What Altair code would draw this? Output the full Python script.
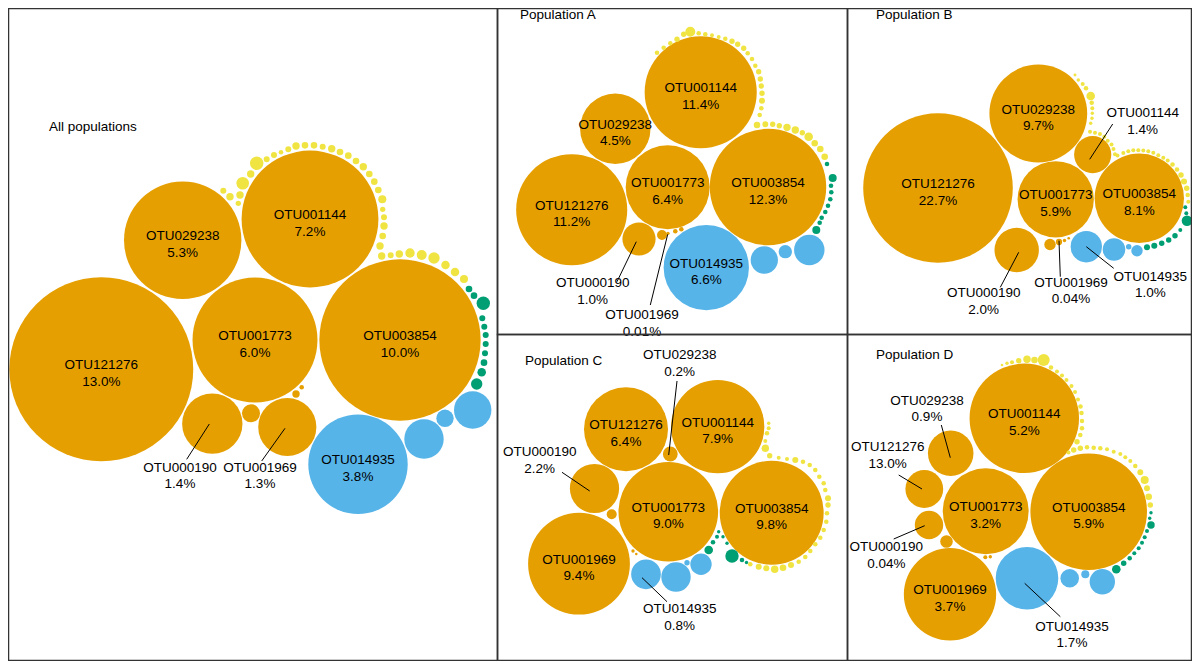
import altair as alt
import pandas as pd

# ---------------- categories / labels ----------------
OTUS = ["OTU121276", "OTU029238", "OTU001144", "OTU001773",
        "OTU003854", "OTU000190", "OTU001969", "OTU014935"]

PANELS = ["all", "A", "B", "C", "D"]
PANEL_TITLES = ["All populations", "Population A", "Population B", "Population C", "Population D"]
TITLE_X = [49, 520, 876, 525, 876]
TITLE_Y = [127, 15, 15, 361, 355]
PANEL_X0 = [8.5, 497.5, 847.5, 497.5, 847.5]
PANEL_X1 = [497.5, 847.5, 1191.5, 847.5, 1191.5]
PANEL_Y0 = [8.5, 8.5, 8.5, 334.5, 334.5]
PANEL_Y1 = [660.5, 334.5, 334.5, 660.5, 660.5]
PANEL_K = [25.5, 16.6, 15.7, 16.6, 24.0]   # pixels per sqrt(percent)

# percentage labels, in OTUS order
ALL_PCT = ["13.0%", "5.3%", "7.2%", "6.0%", "10.0%", "1.4%", "1.3%", "3.8%"]
A_PCT = ["11.2%", "4.5%", "11.4%", "6.4%", "12.3%", "1.0%", "0.01%", "6.6%"]
B_PCT = ["22.7%", "9.7%", "1.4%", "5.9%", "8.1%", "2.0%", "0.04%", "1.0%"]
C_PCT = ["6.4%", "0.2%", "7.9%", "9.0%", "9.8%", "2.2%", "9.4%", "0.8%"]
D_PCT = ["13.0%", "0.9%", "5.2%", "3.2%", "5.9%", "0.04%", "3.7%", "1.7%"]

# ---------------- bubbles (first 8 = OTUS order) ----------------
ALL_X = [101.3, 182.7, 310, 255, 400, 212.3, 287.3, 358,
         251, 296, 301.7,
         424, 445, 472.7,
         469, 474, 483.3, 482.3, 484.3, 485.7, 485.7, 485, 484, 481.7, 476.7,
         223.3, 230, 238.3, 240, 242.7, 250.7, 256.7, 266.7, 274, 281, 288.3, 296, 305, 314,
         322.7, 331.7, 340, 348.3, 356, 363.3, 369.3, 374.3, 378.3, 382.3, 382.7, 384, 384,
         382.7, 380, 381.7, 390.7, 399.3, 410, 421.7, 434, 445.5, 455, 464]
ALL_Y = [369.3, 240.3, 219, 340, 340, 423.7, 427, 464.3,
         413.3, 394, 387.3,
         439, 418.3, 410,
         289, 295.7, 303.3, 318.3, 326.7, 335, 344, 353.3, 362.7, 372.3, 384,
         190.7, 196.7, 203.3, 195, 183.3, 174, 163.3, 159.3, 155, 152.3, 149.3, 146, 145.3, 145.3,
         146.7, 148.7, 152, 155.7, 161, 166.7, 174, 181.7, 190, 199.3, 209.3, 217.3, 226,
         236, 246, 256, 255.3, 254, 253, 255, 258, 265, 272, 279]
ALL_V = [13.0, 5.3, 7.2, 6.0, 10.0, 1.4, 1.3, 3.8,
         0.125, 0.021, 0.008,
         0.597, 0.116, 0.538,
         0.017, 0.017, 0.069, 0.014, 0.014, 0.014, 0.014, 0.014, 0.017, 0.028, 0.05,
         0.014, 0.021, 0.011, 0.021, 0.061, 0.021, 0.069, 0.014, 0.014, 0.008, 0.014, 0.021, 0.017, 0.017,
         0.014, 0.021, 0.017, 0.017, 0.017, 0.021, 0.017, 0.017, 0.017, 0.025, 0.011, 0.014, 0.021,
         0.017, 0.021, 0.021, 0.014, 0.021, 0.034, 0.038, 0.05, 0.028, 0.028, 0.025]
ALL_C = ["o"] * 7 + ["b"] + ["o"] * 3 + ["b"] * 3 + ["g"] * 11 + ["y"] * 38

A_X = [571.7, 615.3, 700.7, 667.7, 768, 639, 668, 706.3,
       662, 675.3, 681.3,
       764.3, 785.3, 809.3,
       827, 832.7, 831, 831.3, 830.3, 828, 825.3, 821.7, 819.7, 816.3,
       757, 765.3, 772.7, 779.3, 787, 795.3, 802.3, 808.7, 814.7, 820.3, 824.7,
       657, 663.7, 670.3, 677, 683.7, 690.3, 698.7, 705.3, 712, 718.7, 725.3, 732,
       737.7, 743.7, 747.7, 752, 755.3, 758.7, 760.3, 761.3, 762, 762, 761.3, 759.7]
A_Y = [209.7, 128.7, 92.3, 187.3, 187, 239, 233.3, 267.7,
       235, 231.3, 229.3,
       260, 251.7, 250,
       164, 178, 185.7, 192.3, 199.3, 205.7, 212, 217.7, 222.7, 230,
       125, 124.3, 124.3, 125.7, 127.3, 130, 132.7, 136.7, 143.3, 149, 156.7,
       52.7, 47.7, 43.3, 39.3, 34.3, 31.7, 33.3, 34.3, 35.3, 37, 38.7, 41.3,
       44.3, 48.3, 53.3, 59, 65.7, 71.7, 79, 86, 93.3, 100.7, 108.3, 115]
A_V = [11.2, 4.5, 11.4, 6.4, 12.3, 1.0, 0.01, 6.6,
       0.09, 0.019, 0.019,
       0.675, 0.161, 0.842,
       0.019, 0.058, 0.019, 0.019, 0.019, 0.019, 0.019, 0.019, 0.019, 0.058,
       0.039, 0.032, 0.026, 0.026, 0.049, 0.049, 0.026, 0.067, 0.039, 0.039, 0.039,
       0.019, 0.019, 0.019, 0.026, 0.026, 0.09, 0.019, 0.019, 0.014, 0.014, 0.019, 0.026,
       0.026, 0.026, 0.019, 0.019, 0.019, 0.026, 0.026, 0.026, 0.026, 0.032, 0.019, 0.019]
A_C = ["o"] * 7 + ["b"] + ["o"] * 3 + ["b"] * 3 + ["g"] * 10 + ["y"] * 35

B_X = [938, 1038.3, 1092.7, 1055.7, 1139.3, 1016.7, 1059, 1086.3,
       1050, 1064.5, 1068.7,
       1114, 1128.7, 1137,
       1147, 1154.3, 1161.7, 1168.7, 1175, 1180.3, 1187, 1186.3, 1185.3,
       1075, 1078.3, 1082.7, 1086, 1090.7, 1091.7, 1092.3, 1092.3, 1092, 1090.7,
       1090, 1095, 1100, 1104.3, 1107.7, 1111.5, 1113.5, 1115, 1117.5, 1123.3,
       1128.3, 1133.3, 1138.3, 1143.3, 1148.3, 1153.3, 1158.3, 1163.3, 1167.7, 1172.5,
       1177, 1181, 1184, 1186.7, 1187.7, 1188.3]
B_Y = [188, 113.5, 154.7, 199.3, 198.3, 250, 242, 246.7,
       244.5, 240.5, 238.3,
       249.5, 246.7, 250.7,
       247.3, 245.7, 243.3, 240, 235.7, 230, 220.7, 213.3, 207.3,
       75, 80, 84, 88.3, 96, 102.7, 108.3, 113.3, 118.3, 123.3,
       131.7, 132.7, 134, 136.7, 140.7, 144.5, 149, 154.3, 155.5, 153,
       151.2, 150.2, 150.2, 150.5, 151.2, 152.8, 155.2, 157.8, 160.5, 164.5,
       169.5, 175, 181.5, 188.3, 195, 201.7]
B_V = [22.7, 9.7, 1.4, 5.9, 8.1, 2.0, 0.04, 1.0,
       0.132, 0.012, 0.007,
       0.518, 0.03, 0.132,
       0.037, 0.037, 0.03, 0.03, 0.03, 0.016, 0.114, 0.016, 0.016,
       0.009, 0.012, 0.016, 0.021, 0.075, 0.021, 0.016, 0.012, 0.012, 0.012,
       0.016, 0.016, 0.016, 0.016, 0.016, 0.016, 0.016, 0.016, 0.016, 0.016,
       0.016, 0.016, 0.016, 0.016, 0.016, 0.016, 0.016, 0.016, 0.016, 0.021,
       0.021, 0.03, 0.037, 0.03, 0.021, 0.016]
B_C = ["o"] * 7 + ["b"] + ["o"] * 3 + ["b"] * 3 + ["g"] * 9 + ["y"] * 36

C_X = [626, 670.3, 717.7, 668.3, 771.7, 594.5, 579, 646,
       611.7, 633, 636.3,
       676, 687, 701,
       708.7, 713, 717, 718.7, 723, 727, 732, 742, 746.5,
       750.3, 758.7, 766.3, 774.7, 783, 791, 798.7, 805.3, 810.3, 815.3,
       820.3, 823.7, 826.3, 827, 828, 828, 825.3, 823.7, 819.3, 815.3,
       809.7, 803, 795.3, 787, 778.7, 769.7, 765.3, 765.3, 767, 768.7, 768.7]
C_Y = [429.3, 454, 426.7, 511.7, 512.7, 488.5, 563.7, 574.3,
       514.3, 551, 554,
       577, 562.7, 564.3,
       550, 542.3, 536.7, 531.7, 536.7, 543.3, 556, 560, 562.5,
       564.3, 566.7, 568.3, 569.3, 567.7, 565, 561.7, 557, 551, 544.3,
       537.7, 530, 521.7, 513.3, 505, 498.3, 490, 483.3, 476.7, 470,
       465, 461.7, 460, 459, 457.7, 455.7, 448.3, 441, 433.3, 428.3, 423.3]
C_V = [6.4, 0.2, 7.9, 9.0, 9.8, 2.2, 9.4, 0.8,
       0.091, 0.0105, 0.006,
       0.784, 0.026, 0.415,
       0.067, 0.019, 0.0145, 0.0105, 0.0105, 0.0105, 0.163, 0.019, 0.0105,
       0.019, 0.033, 0.033, 0.050, 0.040, 0.033, 0.019, 0.019, 0.019, 0.019,
       0.019, 0.019, 0.019, 0.019, 0.026, 0.033, 0.019, 0.019, 0.019, 0.019,
       0.019, 0.019, 0.033, 0.0145, 0.0145, 0.026, 0.050, 0.0145, 0.019, 0.0145, 0.0105]
C_C = ["o"] * 7 + ["b"] + ["o"] * 3 + ["b"] * 3 + ["g"] * 9 + ["y"] * 31

D_X = [924.3, 950.7, 1024.3, 985.7, 1088.7, 929, 950, 1027,
       946.5, 985.3, 990.3,
       1069.7, 1085.3, 1102.3,
       1116.3, 1123.7, 1129.7, 1134.3, 1138.7, 1142, 1144.7, 1147, 1151, 1149.7, 1151,
       1150.3, 1148.7, 1147, 1144.7, 1140.3, 1135.3, 1130.3, 1125.3, 1120.3, 1113.7,
       1107, 1100.3, 1093.7, 1087, 1080.3, 1073.7, 1068.5, 1077, 1080.3, 1082,
       1082, 1081.5, 1080.5, 1078, 1075, 1071.5, 1066.5, 1062, 1057, 1051,
       1043.7, 1034.5, 1027, 1018.7, 1012, 1007, 1002]
D_Y = [489, 453.3, 418.3, 511.3, 511.7, 525, 594.3, 578.3,
       541.5, 557.3, 556.7,
       578.3, 574.3, 581.7,
       569.3, 563.3, 558.3, 553.3, 548.3, 542.7, 537.3, 531, 525, 518.3, 512.7,
       505, 496.7, 488.3, 480, 472.3, 466, 461, 457.3, 454, 451.7,
       449.3, 448.3, 447.7, 447.3, 448.3, 450, 452.5, 441.7, 435, 428.3,
       421, 413, 406.5, 399.5, 392, 386, 380, 375.5, 371.5, 367.5,
       360, 360, 359.3, 360.7, 362.3, 363.3, 365]
D_V = [0.62, 0.9, 5.2, 3.2, 5.9, 0.35, 3.7, 1.7,
       0.069, 0.007, 0.005,
       0.15, 0.028, 0.28,
       0.032, 0.013, 0.009, 0.007, 0.007, 0.007, 0.007, 0.007, 0.024, 0.005, 0.005,
       0.013, 0.019, 0.015, 0.028, 0.015, 0.009, 0.007, 0.007, 0.007, 0.007,
       0.007, 0.009, 0.009, 0.009, 0.013, 0.013, 0.007, 0.013, 0.009, 0.009,
       0.009, 0.009, 0.009, 0.007, 0.007, 0.007, 0.007, 0.007, 0.007, 0.009,
       0.062, 0.019, 0.024, 0.013, 0.007, 0.005, 0.003]
D_C = ["o"] * 7 + ["b"] + ["o"] * 3 + ["b"] * 3 + ["g"] * 11 + ["y"] * 37

# ---------------- labels placed outside their bubble ----------------
OUT_PANEL = ["all", "all", "A", "A", "B", "B", "B", "B", "C", "C", "C", "D", "D", "D", "D"]
OUT_OTU = ["OTU000190", "OTU001969", "OTU000190", "OTU001969", "OTU001144", "OTU000190",
           "OTU001969", "OTU014935", "OTU029238", "OTU000190", "OTU014935", "OTU029238",
           "OTU121276", "OTU000190", "OTU014935"]
OUT_TX = [180, 260, 592.7, 642, 1142.7, 983.7, 1071, 1150.3, 679.7, 539.7, 679.7, 927, 887.7, 886.3, 1072]
OUT_TY = [467.7, 467.7, 283.3, 315, 113.3, 293.3, 282.7, 276.7, 355, 452.3, 609.3, 400.7, 447.3, 547.3, 626.7]
LINE_X1 = [209.3, 285, 636.3, 667.7, 1089.7, 1018.7, 1059, 1086.3, 668.7, 589.7, 642, 950.3, 922, 924.7, 1024.7]
LINE_Y1 = [424, 428.3, 241.7, 234.3, 159.3, 252.3, 240.7, 246.7, 455, 491, 577.7, 457.7, 489, 525.7, 583.3]
LINE_X2 = [186.7, 261.7, 617, 650.3, 1112.7, 1000.3, 1060.3, 1113.7, 677, 562, 667, 941.3, 898.7, 893.7, 1060.3]
LINE_Y2 = [459.3, 461, 281.7, 305, 124, 287.3, 276.7, 268.3, 381, 472.3, 601.7, 425, 475, 539, 616.7]

# ---------------- build tables ----------------
PANEL_DATA = {
    "all": (ALL_X, ALL_Y, ALL_V, ALL_C, ALL_PCT),
    "A": (A_X, A_Y, A_V, A_C, A_PCT),
    "B": (B_X, B_Y, B_V, B_C, B_PCT),
    "C": (C_X, C_Y, C_V, C_C, C_PCT),
    "D": (D_X, D_Y, D_V, D_C, D_PCT),
}

FONT = "Liberation Sans, Arial, Helvetica, sans-serif"
FS = 13.5
X = alt.X("x:Q", scale=alt.Scale(domain=[8, 1192], nice=False, zero=False), axis=None)
Y = alt.Y("y:Q", scale=alt.Scale(domain=[8, 661], nice=False, zero=False, reverse=True), axis=None)
COLOR = alt.Color("c:N", scale=alt.Scale(domain=["o", "b", "g", "y"],
                                         range=["#E69F00", "#56B4E9", "#009E73", "#F0E442"]),
                  legend=None)

out_set = set(zip(OUT_PANEL, OUT_OTU))
layers = []
inside_rows = []
for pi, p in enumerate(PANELS):
    xs, ys, vs, cs, pcts = PANEL_DATA[p]
    n = min(len(xs), len(ys), len(vs), len(cs))
    df = pd.DataFrame({"x": xs[:n], "y": ys[:n], "v": vs[:n], "c": cs[:n]})
    k = PANEL_K[pi]
    vmax = float(df["v"].max())
    layers.append(
        alt.Chart(df).mark_circle(opacity=1, strokeWidth=0).encode(
            x=X, y=Y, color=COLOR,
            size=alt.Size("v:Q", scale=alt.Scale(type="linear", domain=[0, vmax],
                                                 range=[0, 4 * k * k * vmax]),
                          legend=None),
        )
    )
    for i, otu in enumerate(OTUS):
        if (p, otu) not in out_set:
            inside_rows.append({"x": xs[i], "y": ys[i], "name": otu, "pct": pcts[i]})

inside = pd.DataFrame(inside_rows)
pct_lookup = {p: dict(zip(OTUS, PANEL_DATA[p][4])) for p in PANELS}
outside = pd.DataFrame({
    "x": OUT_TX, "y": OUT_TY, "name": OUT_OTU,
    "pct": [pct_lookup[p][o] for p, o in zip(OUT_PANEL, OUT_OTU)],
})
lines = pd.DataFrame({"x": LINE_X1, "y": LINE_Y1, "x2": LINE_X2, "y2": LINE_Y2})
titles = pd.DataFrame({"x": TITLE_X, "y": TITLE_Y, "t": PANEL_TITLES})
frames = pd.DataFrame({"x": PANEL_X0, "x2": PANEL_X1, "y": PANEL_Y0, "y2": PANEL_Y1})

txt = dict(font=FONT, fontSize=FS, color="#000000", align="center", baseline="middle")

layers += [
    alt.Chart(lines).mark_rule(color="#000000", strokeWidth=1).encode(
        x=X, y=Y, x2=alt.X2("x2:Q"), y2=alt.Y2("y2:Q")),
    alt.Chart(inside).mark_text(dy=-4, **txt).encode(x=X, y=Y, text="name:N"),
    alt.Chart(inside).mark_text(dy=12.5, **txt).encode(x=X, y=Y, text="pct:N"),
    alt.Chart(outside).mark_text(dy=0, **txt).encode(x=X, y=Y, text="name:N"),
    alt.Chart(outside).mark_text(dy=16.5, **txt).encode(x=X, y=Y, text="pct:N"),
    alt.Chart(titles).mark_text(font=FONT, fontSize=FS, color="#000000", align="left",
                                baseline="middle").encode(x=X, y=Y, text="t:N"),
    alt.Chart(frames).mark_rect(fillOpacity=0, stroke="#333333", strokeWidth=1.5).encode(
        x=X, y=Y, x2=alt.X2("x2:Q"), y2=alt.Y2("y2:Q")),
]

chart = (
    alt.layer(*layers)
    .resolve_scale(size="independent")
    .properties(width=1184, height=653, padding=0, autosize="none", background="white")
    .configure_view(strokeWidth=0)
)

chart.save("out.html", embed_options={"renderer": "svg", "actions": False})
